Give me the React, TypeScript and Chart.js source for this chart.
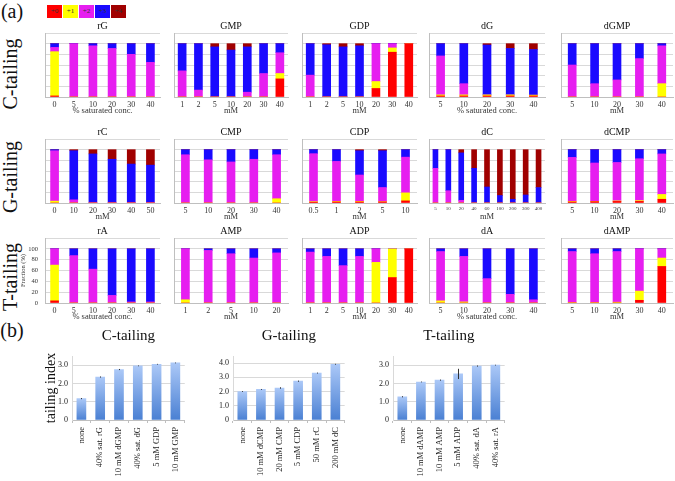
import React, { useEffect, useRef } from 'react';
import { Chart, registerables } from 'chart.js';

Chart.register(...registerables);

const SERIF = '"Liberation Serif", "Times New Roman", serif';

// ---------- legend / stages ----------
const STAGE_LABELS = ['+0', '+1', '+2', '+3', '+4'];
const STAGE_COLORS = ['#ff0000', '#ffff00', '#e61ef0', '#1a0aff', '#a00000'];

// ---------- axis titles ----------
const PCT = '% saturated conc.';
const MM = 'mM';

// ---------- C-tailing row ----------
const rG_cats = ['0', '5', '10', '20', '30', '40'];
const rG_p0 = [2, 0, 0, 0, 0, 0];
const rG_p1 = [83, 0, 0, 0, 0, 0];
const rG_p2 = [8, 100, 96, 91, 80, 65];
const rG_p3 = [7, 0, 4, 9, 20, 35];
const rG_p4 = [0, 0, 0, 0, 0, 0];

const GMP_cats = ['1', '2', '5', '10', '20', '30', '40'];
const GMP_p0 = [0, 0, 0, 0, 0, 0, 34];
const GMP_p1 = [0, 0, 0, 0, 0, 0, 10];
const GMP_p2 = [49, 13, 0, 0, 9, 44, 39];
const GMP_p3 = [51, 87, 94, 88, 85, 56, 17];
const GMP_p4 = [0, 0, 6, 12, 6, 0, 0];

const GDP_cats = ['1', '2', '5', '10', '20', '30', '40'];
const GDP_p0 = [0, 0, 0, 0, 16, 84, 100];
const GDP_p1 = [0, 0, 0, 0, 13, 8, 0];
const GDP_p2 = [41, 0, 0, 0, 71, 8, 0];
const GDP_p3 = [59, 98, 94, 96, 0, 0, 0];
const GDP_p4 = [0, 2, 6, 4, 0, 0, 0];

const dG_cats = ['5', '10', '20', '30', '40'];
const dG_p0 = [2, 2, 2, 2, 2];
const dG_p1 = [2, 2, 2, 2, 1.5];
const dG_p2 = [73, 21, 0, 0, 0];
const dG_p3 = [23, 75, 93.5, 87, 85.5];
const dG_p4 = [0, 0, 2.5, 9, 11];

const dGMP_cats = ['5', '10', '20', '30', '40'];
const dGMP_p0 = [0, 0, 0, 0, 0];
const dGMP_p1 = [0, 0, 0, 0, 25];
const dGMP_p2 = [60, 25, 32, 72, 71];
const dGMP_p3 = [40, 75, 68, 28, 4];
const dGMP_p4 = [0, 0, 0, 0, 0];

// ---------- G-tailing row ----------
const rC_cats = ['0', '10', '20', '30', '40', '50'];
const rC_p0 = [0, 0, 0, 0, 0, 0];
const rC_p1 = [3.5, 0, 0, 0, 0, 0];
const rC_p2 = [94.5, 6, 1, 1, 1, 1];
const rC_p3 = [2, 92, 91, 81, 72, 70];
const rC_p4 = [0, 2, 8, 18, 27, 29];

const CMP_cats = ['5', '10', '20', '30', '40'];
const CMP_p0 = [0, 0, 0, 0, 0];
const CMP_p1 = [0, 0, 0, 0, 8];
const CMP_p2 = [90.5, 81, 77, 82, 82.5];
const CMP_p3 = [9.5, 19, 23, 18, 9.5];
const CMP_p4 = [0, 0, 0, 0, 0];

const CDP_cats = ['0.5', '1', '2', '5', '10'];
const CDP_p0 = [1.5, 2, 2, 2, 4];
const CDP_p1 = [1, 1, 1, 0.5, 15];
const CDP_p2 = [90, 75, 49.5, 26.5, 67];
const CDP_p3 = [7.5, 22, 45.5, 69, 14];
const CDP_p4 = [0, 0, 2, 2, 0];

const dC_cats = ['5', '10', '20', '40', '60', '100', '200', '300', '400'];
const dC_p0 = [0, 0, 0, 0, 0, 0, 0, 0, 0];
const dC_p1 = [0, 0, 0, 0, 0, 0, 0, 0, 0];
const dC_p2 = [65, 23, 5, 0, 0, 0, 0, 0, 0];
const dC_p3 = [35, 77, 89, 65, 30, 14, 7, 15, 29];
const dC_p4 = [0, 0, 6, 35, 70, 86, 93, 85, 71];

const dCMP_cats = ['5', '10', '20', '30', '40'];
const dCMP_p0 = [2, 2.5, 3, 3, 7];
const dCMP_p1 = [1, 0.5, 1, 1.5, 9];
const dCMP_p2 = [82.5, 72, 72, 78.5, 76];
const dCMP_p3 = [14.5, 25, 24, 17, 8];
const dCMP_p4 = [0, 0, 0, 0, 0];

// ---------- T-tailing row ----------
const rA_cats = ['0', '5', '10', '20', '30', '40'];
const rA_p0 = [4, 0, 0, 0, 0, 0];
const rA_p1 = [66, 0, 0, 0, 0, 0];
const rA_p2 = [30, 87.5, 62.5, 14, 2, 2];
const rA_p3 = [0, 12.5, 37.5, 86, 98, 98];
const rA_p4 = [0, 0, 0, 0, 0, 0];

const AMP_cats = ['1', '2', '5', '10', '20'];
const AMP_p0 = [0, 0, 0, 0, 0];
const AMP_p1 = [6, 0, 0, 0, 0];
const AMP_p2 = [94, 97, 91, 83, 92.5];
const AMP_p3 = [0, 3, 9, 17, 7.5];
const AMP_p4 = [0, 0, 0, 0, 0];

const ADP_cats = ['1', '2', '5', '10', '20', '30', '40'];
const ADP_p0 = [0, 0, 0, 0, 0, 47, 100];
const ADP_p1 = [0, 0, 0, 0, 75, 53, 0];
const ADP_p2 = [94, 86, 69, 86, 25, 0, 0];
const ADP_p3 = [6, 14, 31, 14, 0, 0, 0];
const ADP_p4 = [0, 0, 0, 0, 0, 0, 0];

const dA_cats = ['5', '10', '20', '30', '40'];
const dA_p0 = [0, 0, 0, 0, 0];
const dA_p1 = [4, 2, 0, 0, 0];
const dA_p2 = [91, 84, 45, 16, 6];
const dA_p3 = [5, 14, 55, 84, 94];
const dA_p4 = [0, 0, 0, 0, 0];

const dAMP_cats = ['5', '10', '20', '30', '40'];
const dAMP_p0 = [0, 0, 0, 5, 67.5];
const dAMP_p1 = [1, 1, 1.5, 17, 15.5];
const dAMP_p2 = [94, 90, 93.5, 78, 17];
const dAMP_p3 = [5, 9, 5, 0, 0];
const dAMP_p4 = [0, 0, 0, 0, 0];

// ---------- (b) tailing index ----------
const Ctail_cats = ['none', '40% sat. rG', '10 mM dGMP', '40% sat. dG', '5 mM GDP', '10 mM GMP'];
const Ctail_vals = [1.17, 2.35, 2.76, 2.96, 3.05, 3.12];
const Ctail_err = [0.03, 0.03, 0.03, 0.02, 0.02, 0.02];

const Gtail_cats = ['none', '10 mM dCMP', '20 mM CMP', '5 mM CDP', '50 mM rC', '200 mM dC'];
const Gtail_vals = [2.0, 2.15, 2.25, 2.73, 3.3, 3.92];
const Gtail_err = [0.03, 0.03, 0.05, 0.04, 0.03, 0.03];

const Ttail_cats = ['none', '10 mM dAMP', '10 mM AMP', '5 mM ADP', '40% sat. dA', '40% sat. rA'];
const Ttail_vals = [1.27, 2.08, 2.18, 2.52, 2.95, 3.0];
const Ttail_err = [0.03, 0.02, 0.03, 0.28, 0.03, 0.02];

// ---------- layout ----------
const COLS = [
  { l: 45, r: 160 },
  { l: 174, r: 288 },
  { l: 302, r: 417 },
  { l: 429, r: 545 },
  { l: 561, r: 673 },
];
const ROWS = [
  { t: 33, b: 97 },
  { t: 139, b: 203 },
  { t: 238, b: 303 },
];

type PanelDef = {
  title: string;
  cats: string[];
  stacks: number[][];
  axisTitle: string;
  col: number;
  row: number;
  showY?: boolean;
  tickSize?: number;
  barW?: number;
};

const PANELS: PanelDef[] = [
  { title: 'rG', cats: rG_cats, stacks: [rG_p0, rG_p1, rG_p2, rG_p3, rG_p4], axisTitle: PCT, col: 0, row: 0 },
  { title: 'GMP', cats: GMP_cats, stacks: [GMP_p0, GMP_p1, GMP_p2, GMP_p3, GMP_p4], axisTitle: MM, col: 1, row: 0 },
  { title: 'GDP', cats: GDP_cats, stacks: [GDP_p0, GDP_p1, GDP_p2, GDP_p3, GDP_p4], axisTitle: MM, col: 2, row: 0 },
  { title: 'dG', cats: dG_cats, stacks: [dG_p0, dG_p1, dG_p2, dG_p3, dG_p4], axisTitle: PCT, col: 3, row: 0 },
  { title: 'dGMP', cats: dGMP_cats, stacks: [dGMP_p0, dGMP_p1, dGMP_p2, dGMP_p3, dGMP_p4], axisTitle: MM, col: 4, row: 0 },
  { title: 'rC', cats: rC_cats, stacks: [rC_p0, rC_p1, rC_p2, rC_p3, rC_p4], axisTitle: MM, col: 0, row: 1 },
  { title: 'CMP', cats: CMP_cats, stacks: [CMP_p0, CMP_p1, CMP_p2, CMP_p3, CMP_p4], axisTitle: MM, col: 1, row: 1 },
  { title: 'CDP', cats: CDP_cats, stacks: [CDP_p0, CDP_p1, CDP_p2, CDP_p3, CDP_p4], axisTitle: MM, col: 2, row: 1 },
  { title: 'dC', cats: dC_cats, stacks: [dC_p0, dC_p1, dC_p2, dC_p3, dC_p4], axisTitle: MM, col: 3, row: 1, tickSize: 5, barW: 5 },
  { title: 'dCMP', cats: dCMP_cats, stacks: [dCMP_p0, dCMP_p1, dCMP_p2, dCMP_p3, dCMP_p4], axisTitle: MM, col: 4, row: 1 },
  { title: 'rA', cats: rA_cats, stacks: [rA_p0, rA_p1, rA_p2, rA_p3, rA_p4], axisTitle: PCT, col: 0, row: 2, showY: true },
  { title: 'AMP', cats: AMP_cats, stacks: [AMP_p0, AMP_p1, AMP_p2, AMP_p3, AMP_p4], axisTitle: MM, col: 1, row: 2 },
  { title: 'ADP', cats: ADP_cats, stacks: [ADP_p0, ADP_p1, ADP_p2, ADP_p3, ADP_p4], axisTitle: MM, col: 2, row: 2 },
  { title: 'dA', cats: dA_cats, stacks: [dA_p0, dA_p1, dA_p2, dA_p3, dA_p4], axisTitle: PCT, col: 3, row: 2 },
  { title: 'dAMP', cats: dAMP_cats, stacks: [dAMP_p0, dAMP_p1, dAMP_p2, dAMP_p3, dAMP_p4], axisTitle: MM, col: 4, row: 2 },
];

function StackPanel({ def }: { def: PanelDef }) {
  const ref = useRef<HTMLCanvasElement>(null);
  const col = COLS[def.col];
  const row = ROWS[def.row];
  const yW = def.showY ? 26 : 4;
  const titleH = 13;
  const xH = 19;
  const rp = 2;
  const left = col.l - yW;
  const top = row.t - titleH;
  const width = col.r - col.l + yW + rp;
  const height = row.b - row.t + titleH + xH;

  useEffect(() => {
    const chart = new Chart(ref.current!, {
      type: 'bar',
      data: {
        labels: def.cats,
        datasets: def.stacks.map((d, i) => ({
          label: STAGE_LABELS[i],
          data: d,
          backgroundColor: STAGE_COLORS[i],
          borderWidth: 0,
          barThickness: def.barW ?? 8,
        })),
      },
      options: {
        responsive: false,
        animation: false,
        devicePixelRatio: 1,
        layout: { padding: { left: 0, right: rp, top: 0, bottom: 0 } },
        plugins: {
          legend: { display: false },
          tooltip: { enabled: false },
          title: {
            display: true,
            text: def.title,
            fullSize: false,
            color: '#111',
            font: { family: SERIF, size: 10, weight: 'normal', lineHeight: 1.2 },
            padding: { top: 0, bottom: 1 },
          },
        },
        scales: {
          x: {
            stacked: true,
            grid: { display: false, drawTicks: false },
            border: { display: true, color: '#bfbfbf' },
            ticks: {
              autoSkip: false,
              maxRotation: 0,
              minRotation: 0,
              padding: 3,
              color: '#333',
              font: { family: SERIF, size: def.tickSize ?? 8 },
            },
            title: {
              display: true,
              text: def.axisTitle,
              color: '#333',
              font: { family: SERIF, size: 8.5, lineHeight: 1.2 },
              padding: 0,
            },
            afterFit: (s: any) => {
              s.height = xH;
            },
          },
          y: {
            stacked: true,
            min: 0,
            max: 120,
            grid: { color: '#d9d9d9', drawTicks: false },
            border: { display: true, color: '#bfbfbf' },
            ticks: {
              display: !!def.showY,
              stepSize: 20,
              padding: 7,
              color: '#333',
              font: { family: SERIF, size: 6.5 },
              callback: (v: any) => (Number(v) > 100 ? '' : String(v)),
            },
            title: {
              display: !!def.showY,
              text: 'Fraction (%)',
              color: '#333',
              font: { family: SERIF, size: 6.5, lineHeight: 1.2 },
              padding: 0,
            },
            afterFit: (s: any) => {
              s.width = yW;
            },
          },
        },
      },
    });
    return () => chart.destroy();
  }, []);

  return (
    <canvas
      ref={ref}
      width={width}
      height={height}
      style={{ position: 'absolute', left, top, width, height }}
    />
  );
}

type IndexDef = {
  title: string;
  cats: string[];
  vals: number[];
  errs: number[];
  max: number;
  plotL: number;
  plotR: number;
  yTitle?: string;
};

const INDEX_CHARTS: IndexDef[] = [
  { title: 'C-tailing', cats: Ctail_cats, vals: Ctail_vals, errs: Ctail_err, max: 3.5, plotL: 72, plotR: 187, yTitle: 'tailing index' },
  { title: 'G-tailing', cats: Gtail_cats, vals: Gtail_vals, errs: Gtail_err, max: 4.5, plotL: 233, plotR: 347 },
  { title: 'T-tailing', cats: Ttail_cats, vals: Ttail_vals, errs: Ttail_err, max: 3.5, plotL: 393, plotR: 507 },
];

const errorBarPlugin = {
  id: 'errorBars',
  afterDatasetsDraw(chart: any) {
    const ctx = chart.ctx;
    chart.data.datasets.forEach((ds: any, di: number) => {
      if (!ds.errors) return;
      const meta = chart.getDatasetMeta(di);
      const y = chart.scales.y;
      ctx.save();
      ctx.strokeStyle = '#333';
      ctx.lineWidth = 1;
      meta.data.forEach((el: any, i: number) => {
        const v = ds.data[i];
        const e = ds.errors[i];
        const x = Math.round(el.x) + 0.5;
        ctx.beginPath();
        ctx.moveTo(x, y.getPixelForValue(v + e));
        ctx.lineTo(x, y.getPixelForValue(v - e));
        ctx.stroke();
      });
      ctx.restore();
    });
  },
};

function IndexChart({ def }: { def: IndexDef }) {
  const ref = useRef<HTMLCanvasElement>(null);
  const plotT = 356;
  const plotB = 420;
  const titleH = 29;
  const yW = def.yTitle ? 29 : 22;
  const rp = 3;
  const left = def.plotL - yW;
  const top = plotT - titleH;
  const width = def.plotR - def.plotL + yW + rp;
  const height = 481 - top;
  const xH = height - titleH - (plotB - plotT);

  useEffect(() => {
    const chart = new Chart(ref.current!, {
      type: 'bar',
      plugins: [errorBarPlugin],
      data: {
        labels: def.cats,
        datasets: [
          {
            label: 'tailing index',
            data: def.vals,
            errors: def.errs,
            borderWidth: 0,
            barThickness: 9,
            backgroundColor: (c: any) => {
              const chart = c.chart;
              const area = chart.chartArea;
              if (!area || c.raw === undefined) return '#6f9de0';
              const yTop = chart.scales.y.getPixelForValue(c.raw);
              const g = chart.ctx.createLinearGradient(0, yTop, 0, area.bottom);
              g.addColorStop(0, '#abc8f7');
              g.addColorStop(1, '#4a80d3');
              return g;
            },
          } as any,
        ],
      },
      options: {
        responsive: false,
        animation: false,
        devicePixelRatio: 1,
        layout: { padding: { left: 0, right: rp, top: 0, bottom: 0 } },
        plugins: {
          legend: { display: false },
          tooltip: { enabled: false },
          title: {
            display: true,
            text: def.title,
            fullSize: false,
            color: '#111',
            font: { family: SERIF, size: 15, weight: 'normal', lineHeight: 1.2 },
            padding: { top: 0, bottom: 11 },
          },
        },
        scales: {
          x: {
            grid: {
              display: true,
              drawOnChartArea: false,
              drawTicks: true,
              tickLength: 3,
              offset: true,
              color: '#bfbfbf',
            },
            border: { display: true, color: '#bfbfbf' },
            ticks: {
              autoSkip: false,
              maxRotation: 90,
              minRotation: 90,
              padding: 4,
              color: '#222',
              font: { family: SERIF, size: 8.5 },
            },
            afterFit: (s: any) => {
              s.height = xH;
            },
          },
          y: {
            min: 0,
            max: def.max,
            grid: { color: '#d9d9d9', drawTicks: false },
            border: { display: true, color: '#d9d9d9' },
            ticks: {
              stepSize: 0.5,
              padding: 4,
              color: '#222',
              font: { family: SERIF, size: 8 },
              callback: (v: any) => {
                const n = Number(v);
                if (Math.abs(n - Math.round(n)) > 1e-6) return '';
                return n === 0 ? '0' : n.toFixed(1);
              },
            },
            title: {
              display: !!def.yTitle,
              text: def.yTitle || '',
              color: '#111',
              font: { family: SERIF, size: 14, lineHeight: 1.2 },
              padding: 0,
            },
            afterFit: (s: any) => {
              s.width = yW;
            },
          },
        },
      },
    });
    return () => chart.destroy();
  }, []);

  return (
    <canvas
      ref={ref}
      width={width}
      height={height}
      style={{ position: 'absolute', left, top, width, height }}
    />
  );
}

function Label({ text, x, y, size, rotate }: { text: string; x: number; y: number; size: number; rotate?: boolean }) {
  return (
    <div
      style={{
        position: 'absolute',
        left: x,
        top: y,
        transform: `translate(-50%, -50%)${rotate ? ' rotate(-90deg)' : ''}`,
        fontFamily: SERIF,
        fontSize: size,
        lineHeight: 1,
        color: '#111',
        whiteSpace: 'nowrap',
      }}
    >
      {text}
    </div>
  );
}

const ROW_LABELS = ['C-tailing', 'G-tailing', 'T-tailing'];
const ROW_LABEL_Y = [74, 177, 277];

export default function App() {
  return (
    <div
      style={{
        position: 'absolute',
        left: 0,
        top: 0,
        width: 675,
        height: 481,
        background: '#ffffff',
        overflow: 'hidden',
      }}
    >
      <Label text="(a)" x={12} y={11} size={20} />
      <Label text="(b)" x={12} y={330} size={20} />
      {STAGE_LABELS.map((t, i) => (
        <div
          key={t}
          style={{
            position: 'absolute',
            left: 47 + i * 16,
            top: 5,
            width: 15,
            height: 13,
            background: STAGE_COLORS[i],
            fontFamily: SERIF,
            fontSize: 7,
            lineHeight: '13px',
            textAlign: 'center',
            color: '#333',
          }}
        >
          {t}
        </div>
      ))}
      {ROW_LABELS.map((t, i) => (
        <Label key={t} text={t} x={10} y={ROW_LABEL_Y[i]} size={20} rotate />
      ))}
      {PANELS.map((p) => (
        <StackPanel key={p.title} def={p} />
      ))}
      {INDEX_CHARTS.map((c) => (
        <IndexChart key={c.title} def={c} />
      ))}
    </div>
  );
}
